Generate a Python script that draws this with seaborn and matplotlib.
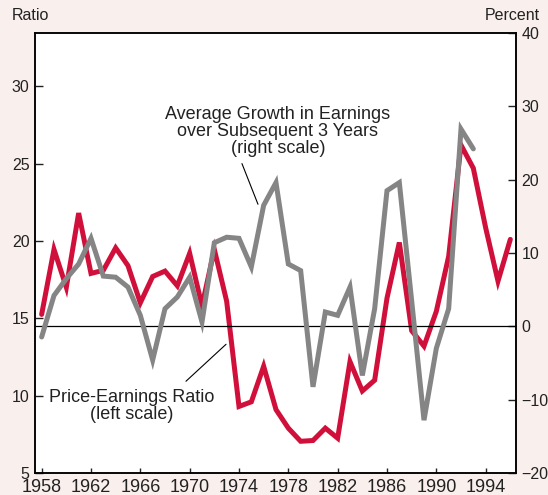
import numpy as np
import pandas as pd
import matplotlib
matplotlib.use("Agg")
import matplotlib.pyplot as plt
import seaborn as sns

# Price-earnings ratio (left scale), 1958-1996
pe_years = list(range(1958, 1997))
pe_ratio = [15.25, 19.45, 17.0, 21.8, 17.9, 18.1, 19.55, 18.4, 16.0, 17.7,
            18.05, 17.1, 19.2, 15.8, 19.45, 16.1, 9.3, 9.6, 11.9, 9.1,
            7.9, 7.05, 7.1, 7.9, 7.25, 12.2, 10.3, 11.0, 16.3, 19.9,
            14.2, 13.2, 15.45, 19.0, 26.2, 24.7, 20.85, 17.4, 20.1]

# Average growth in earnings over subsequent 3 years (right scale), 1958-1993
gr_years = list(range(1958, 1994))
gr_pct = [-1.45, 4.2, 6.5, 8.5, 12.0, 6.85, 6.7, 5.35, 1.5, -4.6,
          2.4, 4.0, 6.7, 0.6, 11.4, 12.15, 12.0, 8.1, 16.5, 19.6,
          8.5, 7.6, -8.25, 1.95, 1.5, 5.35, -6.7, 2.4, 18.5, 19.6,
          3.5, -12.8, -3.0, 2.4, 26.9, 24.2]

x_ticks = list(range(1958, 1995, 4))
left_ticks = [5, 10, 15, 20, 25, 30]
right_ticks = [-20, -10, 0, 10, 20, 30, 40]

pe_df = pd.DataFrame({"year": pe_years, "value": pe_ratio})
gr_df = pd.DataFrame({"year": gr_years, "value": gr_pct})

sns.set_style("ticks")
plt.rcParams["font.family"] = ["Liberation Sans", "DejaVu Sans"]

bg = "#f9efec"
red = "#d0103a"
grey = "#858585"
ink = "#222222"

fig = plt.figure(figsize=(5.48, 4.95), dpi=100, facecolor=bg)
ax = fig.add_axes([35 / 548, 1 - 473 / 495, 481 / 548, 440 / 495])
ax.set_facecolor("white")
ax2 = ax.twinx()

sns.lineplot(data=pe_df, x="year", y="value", ax=ax, color=red, lw=3.6,
             solid_joinstyle="miter", zorder=3)
sns.lineplot(data=gr_df, x="year", y="value", ax=ax2, color=grey, lw=3.6,
             solid_joinstyle="miter", zorder=3)
ax2.axhline(0, color="black", lw=0.9, zorder=2)

ax.set_xlim(1957.46, 1996.46)
ax.set_ylim(5, 33.44)
ax2.set_ylim(-20, 40)

ax.set_xticks(x_ticks)
ax.set_yticks(left_ticks)
ax2.set_yticks(right_ticks)
ax2.set_yticklabels(["\u221220", "\u221210", "0", "10", "20", "30", "40"])

for a in (ax, ax2):
    for s in a.spines.values():
        s.set_color("black")
        s.set_linewidth(1.1)
    a.set_xlabel("")
    a.set_ylabel("")

ax.tick_params(axis="y", direction="in", length=6, width=1, labelsize=11.5,
               pad=4, colors=ink)
ax.tick_params(axis="x", direction="in", length=3.5, width=1, labelsize=13,
               pad=4.5, colors=ink)
ax2.tick_params(axis="y", direction="in", length=6, width=1, labelsize=11.5,
                pad=4, colors=ink)

fig.text(12 / 548, 1 - 16 / 495, "Ratio", fontsize=11.5, ha="left",
         va="center", color=ink)
fig.text(540 / 548, 1 - 16 / 495, "Percent", fontsize=11.5, ha="right",
         va="center", color=ink)

ax.text(1977.16, 27.06,
        "Average Growth in Earnings\nover Subsequent 3 Years\n(right scale)",
        ha="center", va="center", fontsize=13, linespacing=1.02, color=ink)
ax.plot([1974.24, 1975.54], [25.0, 22.37], color="black", lw=0.8, zorder=4)

ax.text(1965.32, 9.34, "Price-Earnings Ratio\n(left scale)", ha="center",
        va="center", fontsize=13, linespacing=1.02, color=ink)
ax.plot([1969.7, 1972.95], [10.93, 13.32], color="black", lw=0.8, zorder=4)

fig.savefig("out.png", dpi=100, facecolor=bg)
